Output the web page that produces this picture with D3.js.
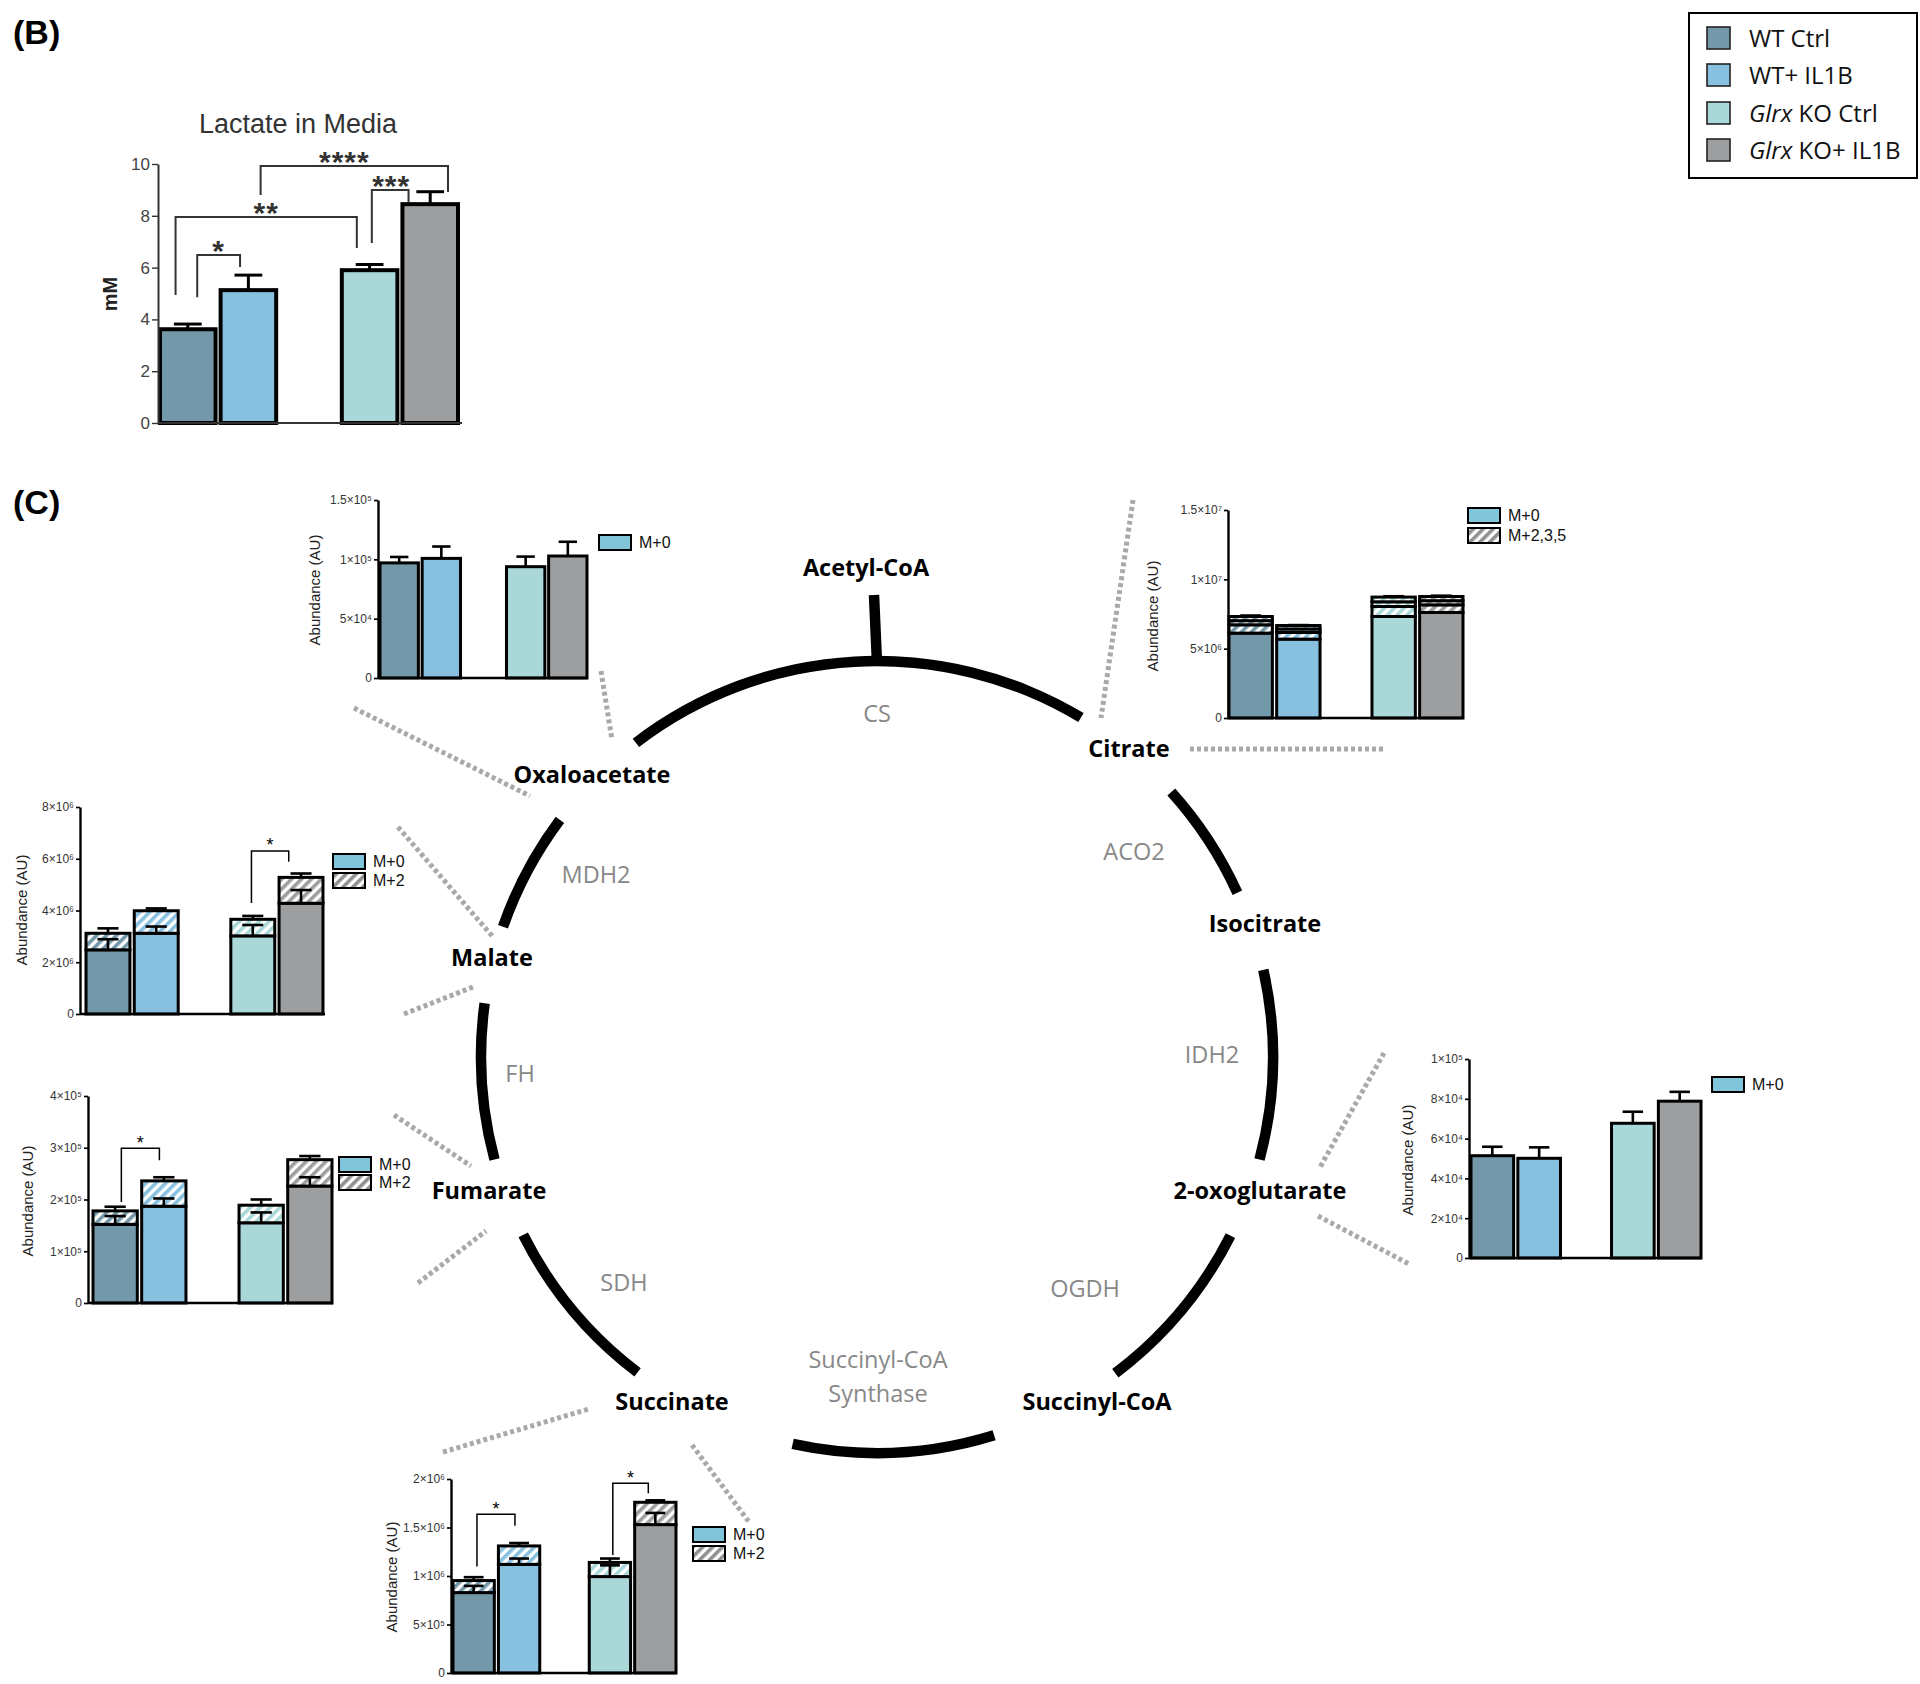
<!DOCTYPE html>
<html><head><meta charset="utf-8">
<script src="https://cdn.jsdelivr.net/npm/d3@7"></script>
<style>body{margin:0;background:#fff}svg{display:block}</style>
</head><body>
<svg id="fig" width="1920" height="1684"></svg>
<script>
// ---------------- DATA ----------------
const groups = ["WT Ctrl", "WT+ IL1B", "Glrx KO Ctrl", "Glrx KO+ IL1B"];
const groupColors = ["#7398a9", "#87c1df", "#aad8d9", "#9c9ea0"];

// Panel B: Lactate in media (mM)
const lactateMean = [3.62, 5.13, 5.90, 8.45];
const lactateSem  = [0.20, 0.58, 0.22, 0.48];
const lactateTicks = [0, 2, 4, 6, 8, 10];
const lactateSig = [
  {a: 0, b: 1, legA: 4.86, legB: 6.02, top: 6.49, label: "*"},
  {a: 0, b: 2, legA: 4.94, legB: 6.76, top: 7.95, label: "**"},
  {a: 2, b: 3, legA: 6.95, legB: 8.53, top: 9.00, label: "***"},
  {a: 1, b: 3, legA: 8.80, legB: 8.92, top: 9.92, label: "****"}
];

// Oxaloacetate
const oxaloM0  = [9.70e4, 1.008e5, 9.38e4, 1.028e5];
const oxaloSem = [0.50e4, 1.00e4, 0.85e4, 1.20e4];
const oxaloTicks = [0, 5e4, 1e5, 1.5e5];
const oxaloTickLabels = ["0", "5×10⁴", "1×10⁵", "1.5×10⁵"];

// Citrate
const citM0 = [6.12e6, 5.69e6, 7.32e6, 7.61e6];
const citM2 = [0.60e6, 0.48e6, 0.72e6, 0.55e6];
const citM3 = [0.30e6, 0.25e6, 0.34e6, 0.30e6];
const citM5 = [0.30e6, 0.25e6, 0.34e6, 0.30e6];
const citSem = [0.07e6, 0.03e6, 0.06e6, 0.06e6];
const citTicks = [0, 5e6, 1e7, 1.5e7];
const citTickLabels = ["0", "5×10⁶", "1×10⁷", "1.5×10⁷"];

// Malate
const malM0 = [2.48e6, 3.12e6, 3.02e6, 4.28e6];
const malM2 = [0.64e6, 0.87e6, 0.64e6, 1.00e6];
const malM0Sem  = [0.41e6, 0.26e6, 0.42e6, 0.51e6];
const malTotSem = [0.19e6, 0.09e6, 0.13e6, 0.15e6];
const malTicks = [0, 2e6, 4e6, 6e6, 8e6];
const malTickLabels = ["0", "2×10⁶", "4×10⁶", "6×10⁶", "8×10⁶"];
const malSig = [{a: 2, b: 3, legA: 4.29e6, legB: 5.88e6, top: 6.3e6, label: "*"}];

// Fumarate
const fumM0 = [1.52e5, 1.87e5, 1.55e5, 2.26e5];
const fumM2 = [0.26e5, 0.49e5, 0.34e5, 0.51e5];
const fumM0Sem  = [0.16e5, 0.15e5, 0.20e5, 0.17e5];
const fumTotSem = [0.08e5, 0.07e5, 0.11e5, 0.07e5];
const fumTicks = [0, 1e5, 2e5, 3e5, 4e5];
const fumTickLabels = ["0", "1×10⁵", "2×10⁵", "3×10⁵", "4×10⁵"];
const fumSig = [{a: 0, b: 1, legA: 1.95e5, legB: 2.76e5, top: 2.99e5, label: "*"}];

// 2-oxoglutarate
const ogM0  = [5.14e4, 5.01e4, 6.77e4, 7.88e4];
const ogSem = [0.45e4, 0.55e4, 0.58e4, 0.47e4];
const ogTicks = [0, 2e4, 4e4, 6e4, 8e4, 1e5];
const ogTickLabels = ["0", "2×10⁴", "4×10⁴", "6×10⁴", "8×10⁴", "1×10⁵"];

// Succinate
const sucM0 = [8.29e5, 1.12e6, 9.94e5, 1.53e6];
const sucM2 = [1.24e5, 1.90e5, 1.46e5, 2.30e5];
const sucM0Sem  = [0.69e5, 0.60e5, 1.16e5, 1.20e5];
const sucTotSem = [0.35e5, 0.30e5, 0.40e5, 0.20e5];
const sucTicks = [0, 5e5, 1e6, 1.5e6, 2e6];
const sucTickLabels = ["0", "5×10⁵", "1×10⁶", "1.5×10⁶", "2×10⁶"];
const sucSig = [
  {a: 0, b: 1, legA: 1.097e6, legB: 1.517e6, top: 1.636e6, label: "*"},
  {a: 2, b: 3, legA: 1.217e6, legB: 1.852e6, top: 1.955e6, label: "*"}
];

// TCA cycle text
const metabolites = ["Acetyl-CoA", "Oxaloacetate", "Citrate", "Isocitrate", "Malate", "2-oxoglutarate", "Fumarate", "Succinate", "Succinyl-CoA"];
const enzymes = ["CS", "ACO2", "IDH2", "OGDH", "Succinyl-CoA\nSynthase", "SDH", "FH", "MDH2"];

// ---------------- LAYOUT ----------------
const svg = d3.select("#fig");
const defs = svg.append("defs");
function hatch(id, color) {
  const p = defs.append("pattern").attr("id", id).attr("patternUnits", "userSpaceOnUse")
    .attr("width", 7).attr("height", 7).attr("patternTransform", "rotate(45)");
  p.append("rect").attr("width", 7).attr("height", 7).attr("fill", "#fff");
  p.append("rect").attr("width", 3.6).attr("height", 7).attr("fill", color);
}
groupColors.forEach((c, i) => hatch("h" + i, c));
hatch("hLeg", "#8e9092");
const legendM0Color = "#80c5d9";
const ARIAL = "'Liberation Sans', Arial, sans-serif";
const CALIBRI = "'Open Sans', Lato, sans-serif";

function drawChart(cfg) {
  const g = svg.append("g");
  const y = d3.scaleLinear().domain([0, cfg.max]).range([cfg.y0, cfg.yTop]);
  const x = d3.scaleBand().domain(d3.range(5)).range([cfg.bx0, cfg.bx1]).paddingInner(cfg.pad);
  const slot = [0, 1, 3, 4];
  const bw = x.bandwidth();
  // bars
  groups.forEach((grp, i) => {
    let cum = 0;
    cfg.layers.forEach(layer => {
      const v = layer.vals[i];
      g.append("rect").attr("x", x(slot[i])).attr("y", y(cum + v))
        .attr("width", bw).attr("height", y(cum) - y(cum + v))
        .attr("fill", layer.hatched ? `url(#h${i})` : groupColors[i])
        .attr("stroke", "#000").attr("stroke-width", cfg.sw);
      cum += v;
    });
  });
  // error bars
  cfg.errs.forEach(e => {
    groups.forEach((grp, i) => {
      const top = d3.sum(cfg.layers.slice(0, e.upto + 1), l => l.vals[i]);
      const cx = x(slot[i]) + bw / 2;
      const yt = y(top + e.sem[i]);
      g.append("line").attr("x1", cx).attr("x2", cx).attr("y1", y(top)).attr("y2", yt)
        .attr("stroke", "#000").attr("stroke-width", cfg.ew);
      g.append("line").attr("x1", cx - bw * cfg.cap).attr("x2", cx + bw * cfg.cap).attr("y1", yt).attr("y2", yt)
        .attr("stroke", "#000").attr("stroke-width", cfg.ew);
    });
  });
  // axes
  const ax = d3.axisLeft(y).tickValues(cfg.ticks)
    .tickFormat((d, i) => cfg.tickLabels ? cfg.tickLabels[i] : d)
    .tickSize(cfg.tickLen).tickSizeOuter(0).tickPadding(2);
  const ag = g.append("g").attr("transform", `translate(${cfg.ax},0)`).call(ax);
  ag.select(".domain").attr("stroke", cfg.axColor).attr("stroke-width", cfg.aw);
  ag.selectAll(".tick line").attr("stroke", cfg.axColor).attr("stroke-width", cfg.aw * 0.7);
  ag.selectAll(".tick text").attr("font-family", ARIAL).attr("font-size", cfg.tickFont).attr("fill", cfg.tickColor);
  g.append("line").attr("x1", cfg.ax).attr("x2", cfg.axEnd).attr("y1", cfg.y0).attr("y2", cfg.y0)
    .attr("stroke", cfg.axColor).attr("stroke-width", cfg.aw);
  // y label
  g.append("text").attr("transform", `translate(${cfg.ylab[0]},${cfg.ylab[1]}) rotate(-90)`)
    .attr("text-anchor", "middle").attr("dy", "0.35em")
    .attr("font-family", ARIAL).attr("font-size", cfg.ylabFont).attr("font-weight", cfg.ylabWeight || "normal")
    .attr("fill", "#222").text(cfg.ylabText);
  // significance
  (cfg.sig || []).forEach((s, k) => {
    const f = cfg.sigFrac[k];
    const xa = x(slot[s.a]) + f[0] * bw, xb = x(slot[s.b]) + f[1] * bw;
    g.append("path").attr("d", `M${xa},${y(s.legA)}V${y(s.top)}H${xb}V${y(s.legB)}`)
      .attr("fill", "none").attr("stroke", cfg.sigColor || "#000").attr("stroke-width", cfg.sigW);
    g.append("text").attr("x", (xa + xb) / 2 + (f[2] || 0)).attr("y", y(s.top) - cfg.sigLift + 0.575 * cfg.sigFont)
      .attr("text-anchor", "middle").attr("font-family", ARIAL).attr("font-size", cfg.sigFont)
      .attr("font-weight", cfg.sigWeight || "normal").attr("letter-spacing", cfg.sigSpacing || 0)
      .attr("fill", cfg.sigColor || "#000").text(s.label);
  });
  // legend
  if (cfg.legend) {
    cfg.legend.items.forEach((it, k) => {
      const ly = cfg.legend.y + k * cfg.legend.dy;
      g.append("rect").attr("x", cfg.legend.x).attr("y", ly).attr("width", 32).attr("height", 15)
        .attr("fill", it.hatched ? "url(#hLeg)" : legendM0Color).attr("stroke", "#000").attr("stroke-width", 2);
      g.append("text").attr("x", cfg.legend.x + 40).attr("y", ly + 7.5).attr("dy", "0.36em")
        .attr("font-family", ARIAL).attr("font-size", cfg.legend.font).attr("fill", "#111").text(it.label);
    });
  }
}

const sub = {pad: 0.09, sw: 3, ew: 2.6, cap: 0.24, tickLen: 4, aw: 2.4, axColor: "#000",
  tickFont: 12, tickColor: "#333", ylabFont: 15, ylabText: "Abundance (AU)", sigW: 1.5, sigLift: 10, sigFont: 18};

// Panel B
svg.append("text").attr("x", 13).attr("y", 44).attr("font-family", ARIAL).attr("font-weight", "bold")
  .attr("font-size", 34).text("(B)");
svg.append("text").attr("x", 298).attr("y", 133).attr("text-anchor", "middle").attr("font-family", ARIAL)
  .attr("font-size", 27).attr("fill", "#333").text("Lactate in Media");
drawChart({ax: 158, axEnd: 462, y0: 423, yTop: 164, max: 10, bx0: 160, bx1: 458, pad: 0.083,
  sw: 4, ew: 3, cap: 0.25, tickLen: 6, aw: 2, axColor: "#333", tickFont: 17, tickColor: "#444",
  ticks: lactateTicks, layers: [{vals: lactateMean}], errs: [{upto: 0, sem: lactateSem}],
  ylab: [110, 294], ylabText: "mM", ylabFont: 20, ylabWeight: "bold",
  sig: lactateSig, sigFrac: [[0.67, 0.35], [0.28, 0.27], [0.54, 0.11, 1], [0.72, 0.82, -10]],
  sigW: 2, sigLift: 11, sigFont: 30, sigWeight: "bold", sigSpacing: 1, sigColor: "#333"});

// Panel B legend
const lg = svg.append("g");
lg.append("rect").attr("x", 1689).attr("y", 13).attr("width", 228).attr("height", 165)
  .attr("fill", "#fff").attr("stroke", "#000").attr("stroke-width", 2);
const legY = [27, 64, 102, 139];
groups.forEach((grp, i) => {
  lg.append("rect").attr("x", 1707).attr("y", legY[i]).attr("width", 23).attr("height", 22)
    .attr("fill", groupColors[i]).attr("stroke", "#222").attr("stroke-width", 1.6);
  const t = lg.append("text").attr("x", 1749).attr("y", legY[i] + 20).attr("font-family", CALIBRI)
    .attr("font-size", 24).attr("fill", "#111");
  if (grp.startsWith("Glrx")) {
    t.append("tspan").attr("font-style", "italic").text("Glrx");
    t.append("tspan").text(grp.slice(4));
  } else t.text(grp);
});

// Panel C
svg.append("text").attr("x", 13).attr("y", 514).attr("font-family", ARIAL).attr("font-weight", "bold")
  .attr("font-size", 34).text("(C)");

// TCA cycle
const cx = 877, cy = 1057, R = 396, W = 10.5;
const arcSpans = [[-37.5, 31], [48, 65.5], [77.3, 105], [116.8, 143], [162.8, 192.3], [217.2, 243.3], [255, 277.8], [289.2, 306.8]];
const arcGen = d3.arc().innerRadius(R - W / 2).outerRadius(R + W / 2);
const cyc = svg.append("g").attr("transform", `translate(${cx},${cy})`);
arcSpans.forEach(s => {
  cyc.append("path").attr("d", arcGen({startAngle: s[0] * Math.PI / 180, endAngle: s[1] * Math.PI / 180})).attr("fill", "#000");
});
svg.append("line").attr("x1", 874).attr("y1", 595).attr("x2", 877).attr("y2", 663).attr("stroke", "#000").attr("stroke-width", W);

// dotted connectors
const connectors = [
  [601, 671, 612, 740], [354, 708, 530, 796],
  [1133, 500, 1101, 718], [1190, 749, 1384, 749],
  [398, 827, 493, 937], [404, 1014, 473, 987],
  [394, 1115, 471, 1166], [418, 1283, 486, 1231],
  [1384, 1053, 1319, 1169], [1318, 1216, 1411, 1265],
  [443, 1452, 589, 1409], [692, 1445, 749, 1522]
];
connectors.forEach(c => svg.append("line").attr("x1", c[0]).attr("y1", c[1]).attr("x2", c[2]).attr("y2", c[3])
  .attr("stroke", "#a9a9a9").attr("stroke-width", 5).attr("stroke-dasharray", "4 3"));

const metabPos = [[866, 568], [592, 775], [1129, 749], [1265, 924], [492, 958], [1260, 1191], [489, 1191], [672, 1402], [1097, 1402]];
metabolites.forEach((m, i) => svg.append("text").attr("x", metabPos[i][0]).attr("y", metabPos[i][1])
  .attr("text-anchor", "middle").attr("dy", "0.35em").attr("font-family", CALIBRI).attr("font-weight", "bold")
  .attr("font-size", 23.5).attr("fill", "#000").text(m));
const enzPos = [[877, 714], [1134, 852], [1212, 1055], [1085, 1289], [878, 1360], [624, 1283], [520, 1074], [596, 875]];
enzymes.forEach((e, i) => {
  const lines = e.split("\n");
  lines.forEach((ln, k) => svg.append("text").attr("x", enzPos[i][0]).attr("y", enzPos[i][1] + k * 34)
    .attr("text-anchor", "middle").attr("dy", "0.35em").attr("font-family", CALIBRI)
    .attr("font-size", 23.5).attr("fill", "#888").text(ln));
});

// Sub-charts
drawChart(Object.assign({}, sub, {ax: 378, axEnd: 587, y0: 678, yTop: 500, max: 1.5e5, bx0: 380, bx1: 587,
  ticks: oxaloTicks, tickLabels: oxaloTickLabels, layers: [{vals: oxaloM0}], errs: [{upto: 0, sem: oxaloSem}],
  ylab: [315, 590], legend: {x: 599, y: 535, dy: 19, font: 16, items: [{label: "M+0"}]}}));

drawChart(Object.assign({}, sub, {ax: 1228, axEnd: 1463, y0: 718, yTop: 510, max: 1.5e7, bx0: 1229, bx1: 1463,
  ticks: citTicks, tickLabels: citTickLabels,
  layers: [{vals: citM0}, {vals: citM2, hatched: true}, {vals: citM3, hatched: true}, {vals: citM5, hatched: true}],
  errs: [{upto: 3, sem: citSem}],
  ylab: [1153, 616], legend: {x: 1468, y: 508, dy: 20, font: 16, items: [{label: "M+0"}, {label: "M+2,3,5", hatched: true}]}}));

drawChart(Object.assign({}, sub, {ax: 80, axEnd: 325, y0: 1014, yTop: 807, max: 8e6, bx0: 86, bx1: 323,
  ticks: malTicks, tickLabels: malTickLabels,
  layers: [{vals: malM0}, {vals: malM2, hatched: true}],
  errs: [{upto: 0, sem: malM0Sem}, {upto: 1, sem: malTotSem}],
  ylab: [22, 910], sig: malSig, sigFrac: [[0.47, 0.22]],
  legend: {x: 333, y: 854, dy: 19, font: 16, items: [{label: "M+0"}, {label: "M+2", hatched: true}]}}));

drawChart(Object.assign({}, sub, {ax: 88, axEnd: 333, y0: 1303, yTop: 1096, max: 4e5, bx0: 93, bx1: 332,
  ticks: fumTicks, tickLabels: fumTickLabels,
  layers: [{vals: fumM0}, {vals: fumM2, hatched: true}],
  errs: [{upto: 0, sem: fumM0Sem}, {upto: 1, sem: fumTotSem}],
  ylab: [28, 1201], sig: fumSig, sigFrac: [[0.64, 0.40]],
  legend: {x: 339, y: 1157, dy: 18, font: 16, items: [{label: "M+0"}, {label: "M+2", hatched: true}]}}));

drawChart(Object.assign({}, sub, {ax: 1469, axEnd: 1702, y0: 1258, yTop: 1059, max: 1e5, bx0: 1471, bx1: 1701,
  ticks: ogTicks, tickLabels: ogTickLabels, layers: [{vals: ogM0}], errs: [{upto: 0, sem: ogSem}],
  ylab: [1408, 1160], legend: {x: 1712, y: 1077, dy: 19, font: 16, items: [{label: "M+0"}]}}));

drawChart(Object.assign({}, sub, {ax: 451, axEnd: 676, y0: 1673, yTop: 1479, max: 2e6, bx0: 453, bx1: 676,
  ticks: sucTicks, tickLabels: sucTickLabels,
  layers: [{vals: sucM0}, {vals: sucM2, hatched: true}],
  errs: [{upto: 0, sem: sucM0Sem}, {upto: 1, sem: sucTotSem}],
  ylab: [392, 1577], sig: sucSig, sigFrac: [[0.58, 0.40], [0.57, 0.33]],
  legend: {x: 693, y: 1527, dy: 19, font: 16, items: [{label: "M+0"}, {label: "M+2", hatched: true}]}}));
</script>
</body></html>
